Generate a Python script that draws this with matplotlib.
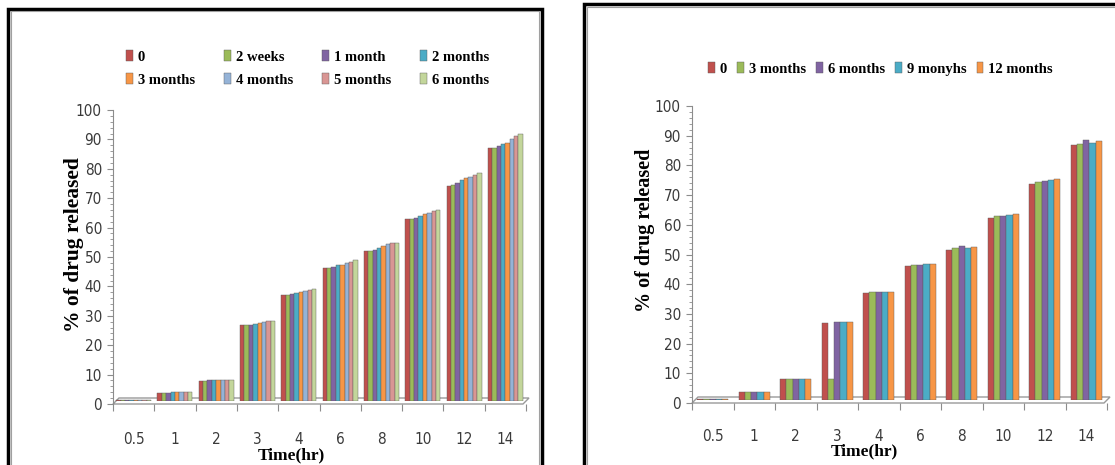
import numpy as np
import matplotlib.pyplot as plt
from matplotlib.patches import Rectangle, Polygon

# sampling times (hr)
times = ['0.5', '1', '2', '3', '4', '6', '8', '10', '12', '14']

# left chart series
left_names = ['0', '2 weeks', '1 month', '2 months',
              '3 months', '4 months', '5 months', '6 months']
l_0  = [0.4, 2.8, 6.9, 25.7, 35.9, 45.3, 51.0, 61.8, 73.1, 85.9]
l_2w = [0.4, 2.8, 6.9, 25.7, 35.9, 45.3, 51.0, 61.8, 73.4, 85.9]
l_1m = [0.4, 2.8, 7.0, 25.9, 36.3, 45.7, 51.5, 62.4, 74.3, 86.6]
l_2m = [0.4, 2.9, 7.0, 26.3, 36.8, 46.1, 52.1, 62.9, 75.1, 87.4]
l_3m = [0.4, 2.9, 7.1, 26.5, 37.1, 46.4, 52.7, 63.5, 75.7, 87.9]
l_4m = [0.4, 2.9, 7.1, 26.9, 37.5, 46.9, 53.4, 64.1, 76.3, 89.0]
l_5m = [0.4, 3.0, 7.2, 27.1, 37.8, 47.3, 53.6, 64.7, 76.9, 90.0]
l_6m = [0.4, 3.0, 7.3, 27.2, 38.0, 47.8, 53.9, 65.1, 77.5, 90.8]
left_series = [l_0, l_2w, l_1m, l_2m, l_3m, l_4m, l_5m, l_6m]
left_colors = ['#C0504D', '#9BBB59', '#8064A2', '#4BACC6',
               '#F79646', '#95B3D7', '#D99694', '#C3D69B']

# right chart series
right_names = ['0', '3 months', '6 months', '9 monyhs', '12 months']
r_0   = [0.4, 2.8, 7.0, 25.8, 35.9, 45.0, 50.6, 61.3, 72.8, 85.7]
r_3m  = [0.4, 2.8, 7.0, 7.0, 36.2, 45.4, 51.1, 61.8, 73.4, 86.3]
r_6m  = [0.4, 2.8, 7.0, 26.1, 36.2, 45.5, 51.7, 62.1, 73.6, 87.4]
r_9m  = [0.4, 2.8, 7.0, 26.1, 36.2, 45.7, 51.3, 62.4, 74.2, 86.6]
r_12m = [0.4, 2.8, 7.0, 26.1, 36.3, 45.9, 51.6, 62.5, 74.3, 87.1]
right_series = [r_0, r_3m, r_6m, r_9m, r_12m]
right_colors = ['#C0504D', '#9BBB59', '#8064A2', '#4BACC6', '#F79646']

W, H = 1115, 465
fig = plt.figure(figsize=(W / 100, H / 100), dpi=100)

serif = ['Liberation Serif', 'DejaVu Serif']


def box(x0, y0, x1, y1):
    # pixel box (top-left origin) -> figure fraction rect
    return [x0 / W, 1 - y1 / H, (x1 - x0) / W, (y1 - y0) / H]


def fpt(x, y):
    return (x / W, 1 - y / H)


def panel(frame, base, floor, series, colors, width, xpad):
    n = len(times)
    x0, ytop, x1, y0 = frame
    ax = fig.add_axes(box(*frame))
    ax.set_facecolor('none')
    ax.set_xlim(0, n)
    ax.set_ylim(0, 100)
    ax.set_yticks(np.arange(0, 101, 10))
    ax.set_yticks(np.arange(0, 101, 2), minor=True)
    ax.set_xticks(np.arange(0, n + 1))
    ax.set_xticks(np.arange(n) + 0.5, minor=True)
    ax.set_xticklabels([])
    ax.set_xticklabels(times, minor=True)
    for s in ['top', 'right', 'bottom']:
        ax.spines[s].set_visible(False)
    ax.spines['left'].set_color('#8c8c8c')
    ax.tick_params(axis='y', which='major', length=4, color='#8c8c8c',
                   labelsize=11, labelcolor='#3a3a3a', pad=4)
    ax.tick_params(axis='y', which='minor', length=2.5, color='#8c8c8c')
    ax.tick_params(axis='x', which='major', length=5, color='#8c8c8c')
    ax.tick_params(axis='x', which='minor', length=0, pad=xpad,
                   labelsize=11, labelcolor='#3a3a3a')
    for lab in ax.get_yticklabels() + ax.get_xticklabels(minor=True):
        lab.set_family('DejaVu Sans')
        lab.set_fontstretch('condensed')

    # floor of the 3-D plot area
    fl = Polygon([fpt(*p) for p in floor], closed=True, transform=fig.transFigure,
                 facecolor='white', edgecolor='#9a9a9a', lw=1.0, zorder=-1)
    fig.patches.append(fl)

    # bars stand slightly behind the front edge of the floor
    scale = (y0 - ytop) / 100.0
    axb = fig.add_axes(box(x0, base - 100 * scale, x1, base))
    axb.set_facecolor('none')
    axb.set_xlim(-0.5, n - 0.5)
    axb.set_ylim(0, 100)
    axb.axis('off')
    x = np.arange(n)
    k = len(series)
    handles = []
    for i, (vals, c) in enumerate(zip(series, colors)):
        b = axb.bar(x + (i - (k - 1) / 2) * width, vals, width,
                    color=c, edgecolor='#5a5a5a', linewidth=0.3)
        handles.append(b)
    return ax, handles


axl, hl = panel((113, 110, 526, 404), 401,
                [(113, 404), (523, 404), (529, 398), (119, 398)],
                left_series, left_colors, 0.106, 20)
axr, hr = panel((692, 106, 1107, 403), 400,
                [(692, 403), (1104, 403), (1110, 397), (698, 397)],
                right_series, right_colors, 0.15, 19)

# legends (left one is filled row by row, like the original)
order = [0, 4, 1, 5, 2, 6, 3, 7]
leg_font = {'family': serif, 'weight': 'bold', 'size': 10.5}
fig.legend([hl[i] for i in order], [left_names[i] for i in order],
           loc='upper left', bbox_to_anchor=fpt(126, 50),
           ncol=4, frameon=False, prop=leg_font, handlelength=0.45,
           handleheight=0.8, handletextpad=0.35, columnspacing=2.0,
           labelspacing=0.65, borderaxespad=0, borderpad=0)
fig.legend(hr, right_names, loc='upper left', bbox_to_anchor=fpt(708, 62),
           ncol=5, frameon=False, prop=leg_font, handlelength=0.45,
           handleheight=0.8, handletextpad=0.35, columnspacing=0.7,
           borderaxespad=0, borderpad=0)

# axis titles
fig.text(74 / W, 1 - 245 / H, '% of drug released', rotation=90, ha='center',
         va='center', family=serif, weight='bold', fontsize=15.5)
fig.text(645 / W, 1 - 230 / H, '% of drug released', rotation=90, ha='center',
         va='center', family=serif, weight='bold', fontsize=14.5)
fig.text(291 / W, 1 - 455 / H, 'Time(hr)', ha='center', va='center',
         family=serif, weight='bold', fontsize=12.5)
fig.text(864 / W, 1 - 451 / H, 'Time(hr)', ha='center', va='center',
         family=serif, weight='bold', fontsize=12.5)

# panel frames
for (x0, y0, x1, y1) in [(7.5, 8.8, 541.8, 480), (583.8, 4, 1130, 480)]:
    fig.patches.append(Rectangle(fpt(x0, y1), (x1 - x0) / W, (y1 - y0) / H,
                                 transform=fig.transFigure, fill=False,
                                 edgecolor='black', lw=2.5))
for (x0, y0, x1, y1) in [(10.8, 11.5, 539, 480), (587, 6.7, 1130, 480)]:
    fig.patches.append(Rectangle(fpt(x0, y1), (x1 - x0) / W, (y1 - y0) / H,
                                 transform=fig.transFigure, fill=False,
                                 edgecolor='#a0a0a0', lw=0.8))

fig.savefig('out.png', dpi=100)
